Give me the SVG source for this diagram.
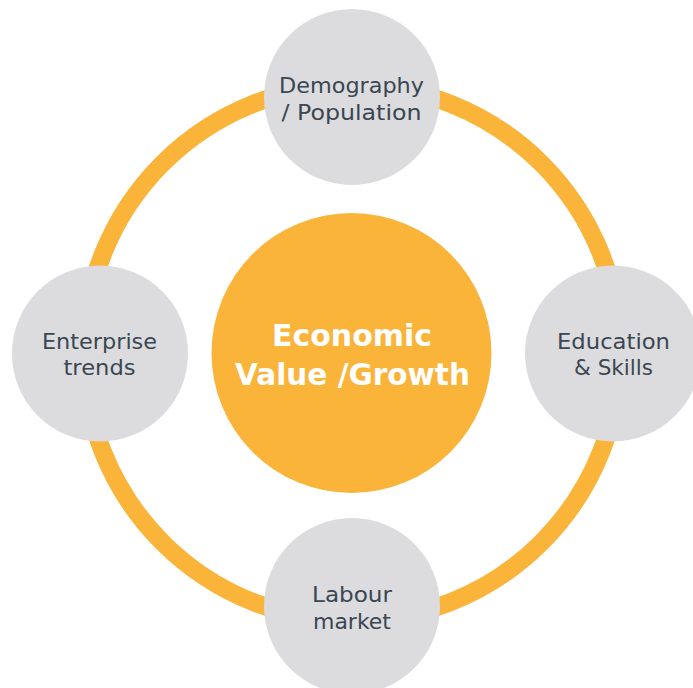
<svg xmlns="http://www.w3.org/2000/svg" width="693" height="688" viewBox="0 0 693 688">
<style>
.sat{fill:#DCDCDE}
.lbl{font-family:"DejaVu Sans","Liberation Sans",sans-serif;font-size:21.5px;fill:#3A4652;text-anchor:middle}
.ctr{font-family:"DejaVu Sans","Liberation Sans",sans-serif;font-size:30px;font-weight:bold;fill:#FFFFFF;text-anchor:middle}
</style>
<rect width="693" height="688" fill="#FFFFFF"/>
<g id="connectors">
<circle cx="352" cy="353" r="268" fill="none" stroke="#FBB43A" stroke-width="18"/>
</g>
<g id="center">
<circle cx="351.5" cy="353" r="140" fill="#FBB43A"/>
<text class="ctr" x="352" y="346" textLength="160" lengthAdjust="spacingAndGlyphs">Economic</text>
<text class="ctr" x="352.5" y="385" textLength="235" lengthAdjust="spacingAndGlyphs">Value /Growth</text>
</g>
<g id="demography">
<circle class="sat" cx="352" cy="97" r="88"/>
<text class="lbl" x="351.5" y="93" textLength="145" lengthAdjust="spacingAndGlyphs">Demography</text>
<text class="lbl" x="351.5" y="120" textLength="140" lengthAdjust="spacingAndGlyphs">/ Population</text>
</g>
<g id="enterprise">
<circle class="sat" cx="100" cy="353.5" r="88"/>
<text class="lbl" x="99.5" y="349" textLength="115" lengthAdjust="spacingAndGlyphs">Enterprise</text>
<text class="lbl" x="99.5" y="375" textLength="72" lengthAdjust="spacingAndGlyphs">trends</text>
</g>
<g id="education">
<circle class="sat" cx="613" cy="353.5" r="88"/>
<text class="lbl" x="613.5" y="349" textLength="113" lengthAdjust="spacingAndGlyphs">Education</text>
<text class="lbl" x="613.5" y="375" textLength="79" lengthAdjust="spacingAndGlyphs">&amp; Skills</text>
</g>
<g id="labour">
<circle class="sat" cx="352" cy="606" r="88"/>
<text class="lbl" x="352" y="602" textLength="80" lengthAdjust="spacingAndGlyphs">Labour</text>
<text class="lbl" x="352" y="629" textLength="78" lengthAdjust="spacingAndGlyphs">market</text>
</g>
</svg>
